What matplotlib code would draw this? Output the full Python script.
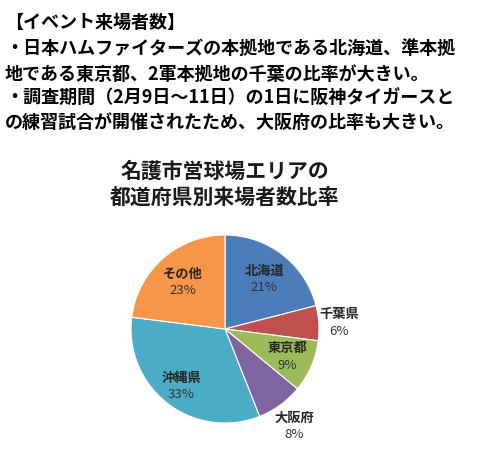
import matplotlib
matplotlib.use("Agg")
from matplotlib import pyplot as plt
import numpy as np

plt.rcParams['font.family'] = ['Noto Sans CJK JP', 'DejaVu Sans']

header = "【イベント来場者数】"
notes = [
    "・日本ハムファイターズの本拠地である北海道、準本拠",
    "地である東京都、2軍本拠地の千葉の比率が大きい。",
    "・調査期間（2月9日～11日）の1日に阪神タイガースと",
    "の練習試合が開催されたため、大阪府の比率も大きい。",
]
title = "名護市営球場エリアの\n都道府県別来場者数比率"

regions = ["北海道", "千葉県", "東京都", "大阪府", "沖縄県", "その他"]
shares = [21, 6, 9, 8, 33, 23]
colors = ["#4A7DBA", "#C0504D", "#9BBB59", "#8064A2", "#4BACC6", "#F79646"]
label_dist = [0.68, 1.22, 0.72, 1.26, 0.76, 0.68]

W, H = 480, 452
fig = plt.figure(figsize=(W / 100, H / 100), dpi=100)
fig.patch.set_facecolor("white")

# text block at the top
fig.text(5 / W, 1 - 22 / H, header, fontsize=13, fontweight="bold",
         ha="left", va="center", color="black")
line_y = [48, 74, 98, 122]
for s, y in zip(notes, line_y):
    fig.text(5 / W, 1 - y / H, s, fontsize=13, fontweight="bold",
             ha="left", va="center", color="black")

# chart title
fig.text(225 / W, 1 - 184 / H, title, fontsize=15, fontweight="bold",
         ha="center", va="center", color="#1a1a1a", linespacing=1.3)

# pie
cx, cy, r = 225, 330, 94
ax = fig.add_axes([(cx - r) / W, 1 - (cy + r) / H, 2 * r / W, 2 * r / H])
wedges, _ = ax.pie(shares, colors=colors, startangle=90, counterclock=False,
                   wedgeprops=dict(edgecolor="white", linewidth=0.8))
ax.set_xlim(-1, 1)
ax.set_ylim(-1, 1)
ax.set_aspect("equal")
ax.axis("off")

for w, name, v, d in zip(wedges, regions, shares, label_dist):
    ang = np.deg2rad((w.theta1 + w.theta2) / 2)
    x, y = d * np.cos(ang), d * np.sin(ang)
    ax.text(x, y + 0.09, name, fontsize=9.5, fontweight="bold",
            ha="center", va="center", color="#262626", clip_on=False)
    ax.text(x, y - 0.09, f"{v}%", fontsize=9.5,
            ha="center", va="center", color="#333333", clip_on=False)

fig.savefig("out.png", dpi=100)
